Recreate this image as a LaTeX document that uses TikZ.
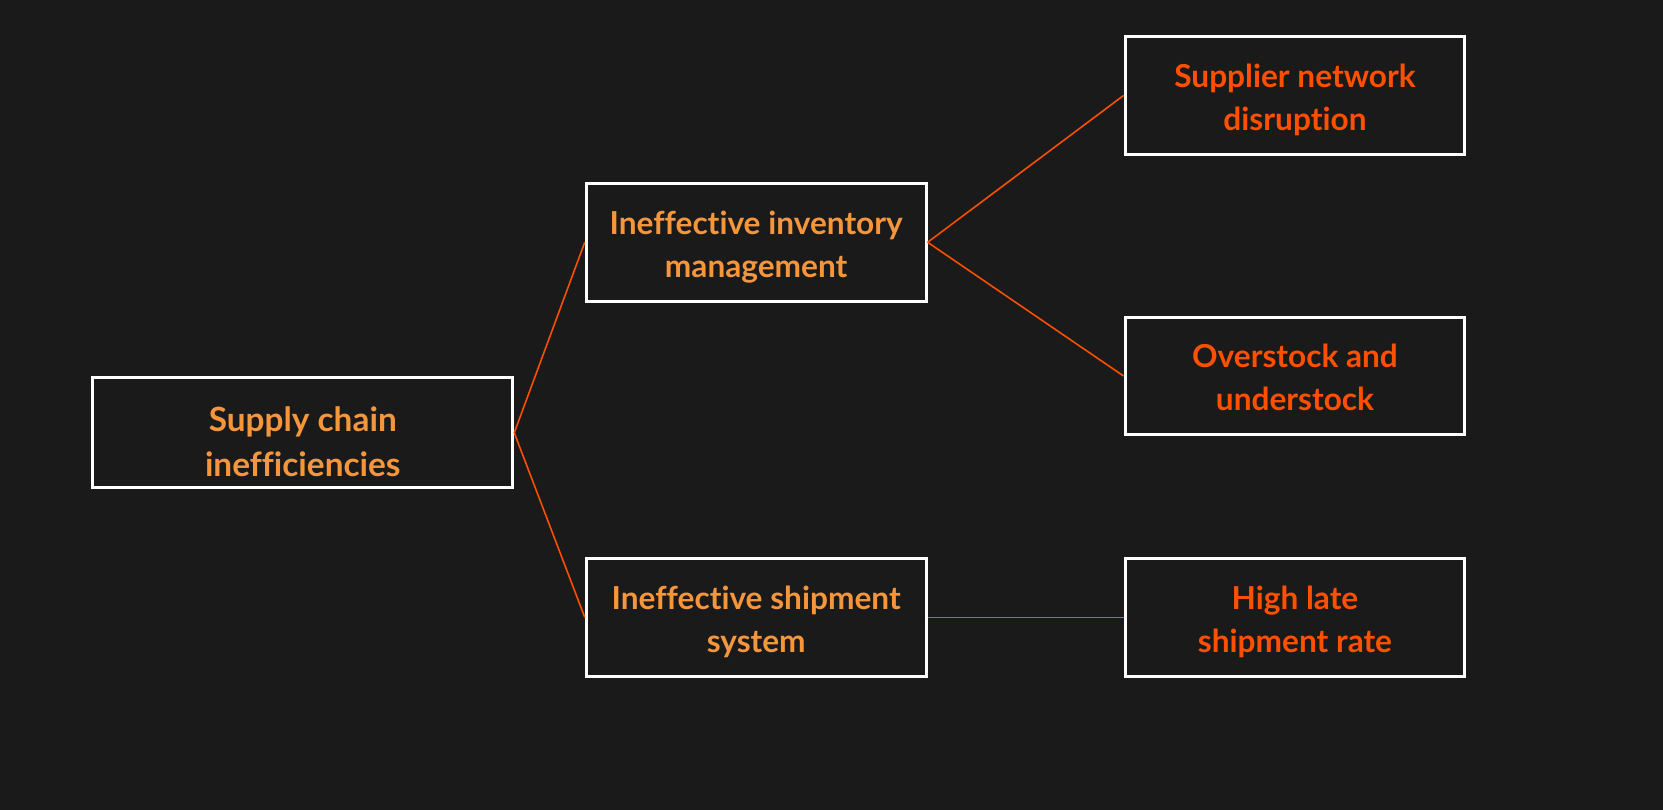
\documentclass[tikz,border=0pt]{standalone}
\usepackage{fontspec}
\setmainfont[Ligatures=NoCommon]{Lato}
\definecolor{bgdark}{HTML}{1A1A1A}
\definecolor{midorange}{HTML}{F5963C}
\definecolor{leaforange}{HTML}{FF5000}
\begin{document}
\begin{tikzpicture}[x=0.02cm, y=-0.02cm,
    every node/.style={align=center, font=\fontsize{18}{24.5}\selectfont\bfseries},
    causebox/.style={draw=white, line width=1.7pt, fill=bgdark, minimum width=6.8cm, minimum height=2.36cm, inner sep=0pt, text height=42.6pt, text depth=3pt},
    rootbox/.style={causebox, minimum width=8.4cm, minimum height=2.2cm, font=\fontsize{19}{26}\selectfont\bfseries, text height=53pt, text depth=3pt},
    link/.style={draw=leaforange, line width=0.9pt}]
    \fill[bgdark] (0,0) rectangle (1663,810);

    \node[rootbox, text=midorange] (root) at (302.8,432.8) {Supply chain\\inefficiencies};
    \node[causebox, text=midorange] (inventory) at (756.2,242.3) {Ineffective inventory\\management};
    \node[causebox, text=midorange] (shipment) at (756.2,617.3) {Ineffective shipment\\system};
    \node[causebox, text=leaforange] (supplier) at (1295,95.5) {Supplier network\\disruption};
    \node[causebox, text=leaforange] (overstock) at (1295,376) {Overstock and\\understock};
    \node[causebox, text=leaforange] (late) at (1295,617.3) {High late\\shipment rate};

    \draw[link] (root.east) -- (inventory.west);
    \draw[link] (root.east) -- (shipment.west);
    \draw[link] (inventory.east) -- (supplier.west);
    \draw[link] (inventory.east) -- (overstock.west);
    \draw[link] (shipment.east) -- (late.west);
\end{tikzpicture}
\end{document}
